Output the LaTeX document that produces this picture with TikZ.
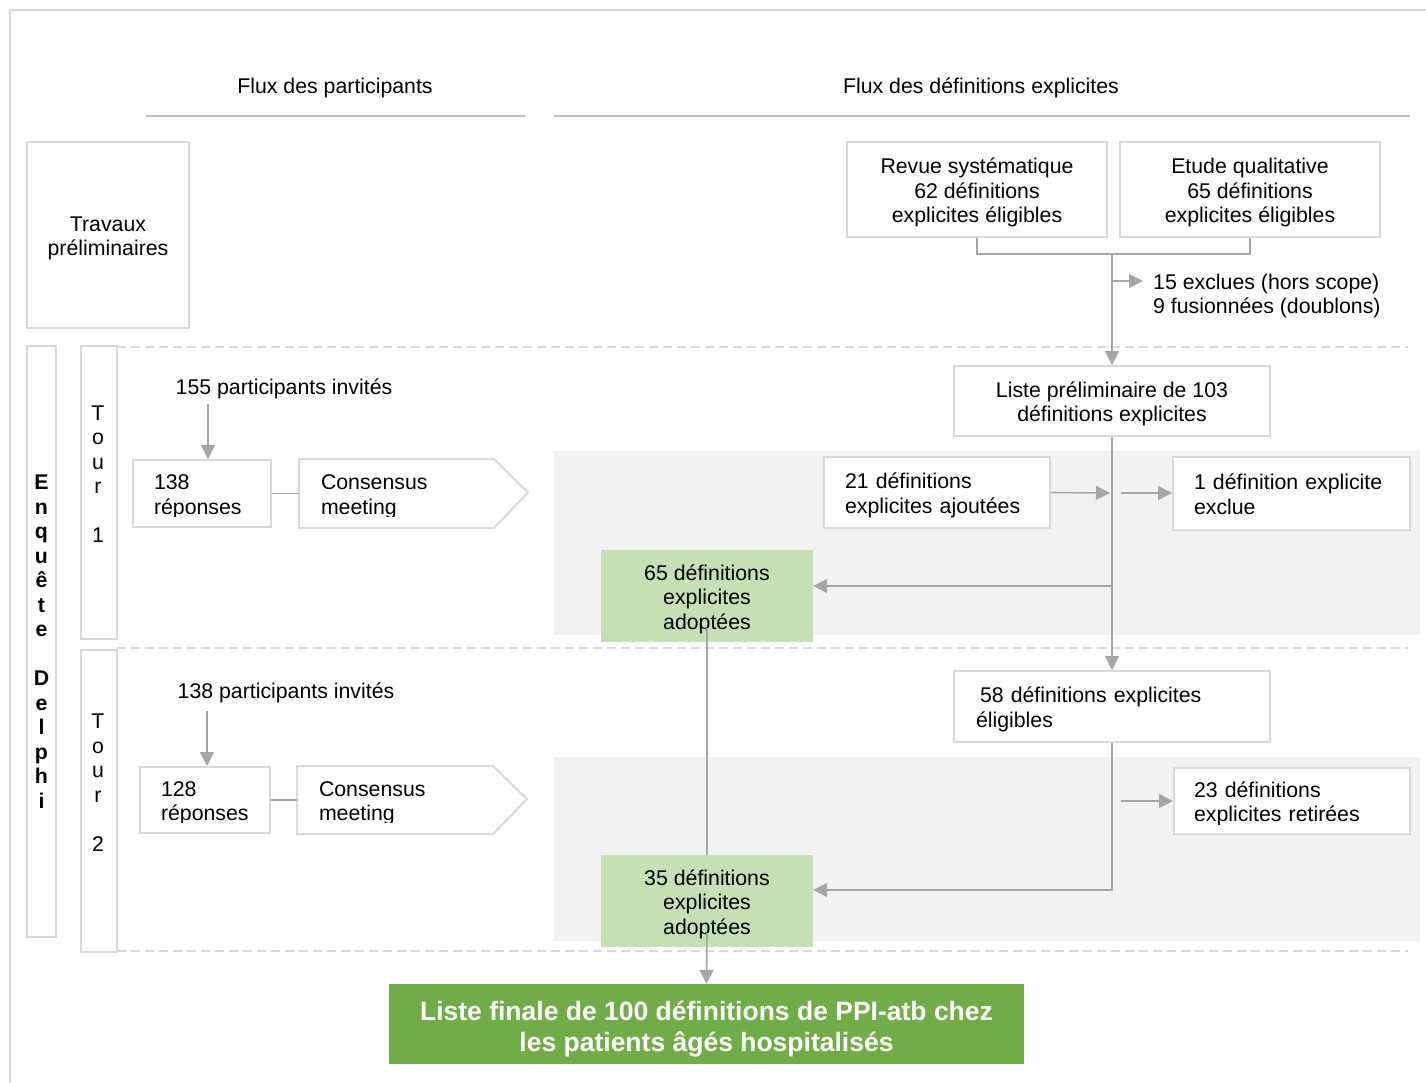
\documentclass[tikz,border=0pt]{standalone}
\usepackage{fontspec}
\setmainfont{Liberation Sans}
\usetikzlibrary{arrows.meta,calc}
\definecolor{boxgray}{HTML}{D9D9D9}
\definecolor{linegray}{HTML}{A6A6A6}
\definecolor{headgray}{HTML}{BFBFBF}
\definecolor{bggray}{HTML}{F2F2F2}
\definecolor{lightgreen}{HTML}{C5E0B4}
\definecolor{darkgreen}{HTML}{70AD47}
\newcommand{\fs}{\fontsize{21.3}{24.5}\selectfont}
\newcommand{\fbig}{\fontsize{26.5}{31}\selectfont\bfseries}
\newcommand{\Ts}{\rule{0pt}{22pt}}
\newcommand{\Te}{\rule[-5pt]{0pt}{5pt}}
\newcommand{\Tbs}{\rule{0pt}{29pt}}
\newcommand{\Tbe}{\rule[-6pt]{0pt}{6pt}}
\begin{document}
\begin{tikzpicture}[x=1pt,y=-1pt,
  plainbox/.style={draw=boxgray,line width=2pt,fill=white,inner sep=0pt,font=\fs,text=black},
  box/.style={plainbox},
  cbox/.style={box,align=center},
  lbox/.style={box,align=left,inner xsep=21pt},
  gbox/.style={fill=lightgreen,inner sep=0pt,font=\fs,text=black,align=center},
  conn/.style={draw=linegray,line width=1.6pt},
  arr/.style={conn,-{Triangle[length=14pt,width=14pt]}},
  txt/.style={font=\fs,inner sep=0pt,text=black},
  letters/.style={font=\fs,inner sep=0pt,text=black,align=center},
  frameline/.style={draw=boxgray,line width=2pt},
  headline/.style={draw=headgray,line width=2pt},
  sep/.style={draw=boxgray,line width=1.5pt,dash pattern=on 9pt off 5pt},
  mask/.style={fill=white},
]
\useasboundingbox (0,0) rectangle (1426,1082);
% backgrounds
\fill[bggray] (554,451) rectangle (1420,635);
\fill[bggray] (554,757) rectangle (1420,941);
\draw[frameline] (10,1090) -- (10,10) -- (1430,10);
\foreach \yy in {347,648,951} \draw[sep] (117,\yy) -- (1408,\yy);

% headers
\node[txt] (h1) at (335,85) {\Ts Flux des participants\Te};
\node[txt] (h2) at (981,85) {\Ts Flux des définitions explicites\Te};
\draw[headline] (146,116) -- (525,116);
\draw[headline] (554,116) -- (1410,116);

% left column
\node[cbox,minimum width=162pt,minimum height=186pt] (trav) at (108,235) {\Ts Travaux\\préliminaires\Te};
\node[plainbox,minimum width=29pt,minimum height=591pt,align=center,font=\fs\bfseries] (delphi) at (41.5,641.5)
  {E\\n\\q\\u\\ê\\t\\e\\\mbox{}\\D\\e\\l\\p\\h\\i};
\node[plainbox,minimum width=36pt,minimum height=293pt] (tour1box) at (99,492.5) {};
\node[letters] (t1) at (98,474) {T\\o\\u\\r\\\mbox{}\\1};
\node[plainbox,minimum width=36pt,minimum height=302pt] (tour2box) at (99,801) {};
\node[letters] (t2) at (98,782.5) {T\\o\\u\\r\\\mbox{}\\2};

% participants flow, tour 1
\node[txt] (inv1) at (284,386) {\Ts 155 participants invités\Te};
\coordinate (p1) at (208,404);
\node[lbox,minimum width=138pt,minimum height=67pt,text width=96pt] (rep1) at (202,493.5) {\Ts 138\\réponses\Te};
\node[lbox,draw=none,fill=none,minimum width=193pt,minimum height=67pt,text width=151pt] (cons1) at (396.5,493.5) {\Ts Consensus\\meeting\Te};
\fill[mask] (134.5,517) rectangle (269.5,525.8);
\fill[mask] (301.5,517) rectangle (490,525.8);
\draw[frameline] (cons1.north west) -- (cons1.north east) -- ++(34,33.5) -- (cons1.south east) -- (cons1.south west) -- cycle;

% participants flow, tour 2
\node[txt] (inv2) at (286,690) {\Ts 138 participants invités\Te};
\coordinate (p2) at (207,711);
\node[lbox,minimum width=130pt,minimum height=66pt,text width=88pt] (rep2) at (205,800) {\Ts 128\\réponses\Te};
\node[lbox,draw=none,fill=none,minimum width=194pt,minimum height=66pt,text width=152pt] (cons2) at (395,800) {\Ts Consensus\\meeting\Te};
\fill[mask] (141.5,823) rectangle (268.5,832);
\fill[mask] (299.5,823) rectangle (490,832);
\draw[frameline] (cons2.north west) -- (cons2.north east) -- ++(34,33) -- (cons2.south east) -- (cons2.south west) -- cycle;

% definitions flow
\node[cbox,minimum width=260pt,minimum height=95pt] (revue) at (977,189.5) {\Ts Revue systématique\\62 définitions\\explicites éligibles\Te};
\node[cbox,minimum width=260pt,minimum height=95pt] (etude) at (1250,189.5) {\Ts Etude qualitative\\65 définitions\\explicites éligibles\Te};
\coordinate (merge) at (1112,254);
\coordinate (exc) at (1112,281);
\node[txt,anchor=west,align=left,inner xsep=10pt] (excl) at (1143,293) {\Ts 15 exclues (hors scope)\\9 fusionnées (doublons)\Te};
\node[cbox,minimum width=316pt,minimum height=70pt] (liste) at (1112,401) {\Ts Liste préliminaire de 103\\définitions explicites\Te};
\node[lbox,minimum width=226pt,minimum height=71pt,text width=184pt] (add) at (937,492.5) {\Ts 21 définitions\\explicites ajoutées\Te};
\coordinate (c1) at (1110,493);
\coordinate (c2) at (1121,493);
\node[lbox,minimum width=237pt,minimum height=73pt,text width=195pt] (excl1) at (1291.5,493.5) {\Ts 1 définition explicite\\exclue\Te};
\coordinate (j1) at (1112,586);
\node[gbox,minimum width=212pt,minimum height=92pt] (a65) at (707,596) {\Ts 65 définitions\\explicites\\adoptées\Te};
\node[lbox,inner xsep=22pt,minimum width=316pt,minimum height=71pt,text width=272pt] (a58) at (1112,706.5) {\Ts\hspace*{4pt}58 définitions explicites\\éligibles\Te};
\coordinate (c3) at (1121,801);
\node[lbox,inner xsep=20pt,minimum width=236pt,minimum height=66pt,text width=196pt] (ret) at (1292,801) {\Ts 23 définitions\\explicites retirées\Te};
\fill[mask] (1175.5,825) rectangle (1408.5,832.8);
\coordinate (j2) at (1112,890);
\node[gbox,minimum width=212pt,minimum height=92pt] (a35) at (707,901) {\Ts 35 définitions\\explicites\\adoptées\Te};
\node[fill=darkgreen,inner sep=0pt,minimum width=635pt,minimum height=80pt,align=center,text=white,font=\fbig] (final) at (706.5,1024)
  {\Tbs Liste finale de 100 définitions de PPI-atb chez\\les patients âgés hospitalisés\Tbe};

% connectors
\draw[conn] (revue.south) |- (merge) -| (etude.south);
\draw[arr] (merge) -- (liste.north);
\draw[arr] (exc) -- (exc -| excl.west);
\draw[conn,line width=1.3pt] (liste.south) -- ($(a58.north)+(0,-14)$);
\draw[arr] ($(a58.north)+(0,-14)$) -- (a58.north);
\draw[arr] (add.east) -- (c1);
\draw[arr] (c2) -- (c2 -| excl1.west);
\draw[arr] (j1) -- (j1 -| a65.east);
\draw[arr] (a58.south) -- (j2) -- (j2 -| a35.east);
\draw[arr] (c3) -- (c3 -| ret.west);
\draw[conn,line width=1.2pt] ([yshift=14pt]a65.south) -- (a35.north);
\draw[arr] ([yshift=14pt]a35.south) -- (final.north);
\draw[arr] (p1) -- (p1 |- rep1.north);
\draw[conn] (rep1.east) -- (cons1.west);
\draw[arr] (p2) -- (p2 |- rep2.north);
\draw[conn] (rep2.east) -- (cons2.west);
\end{tikzpicture}
\end{document}
